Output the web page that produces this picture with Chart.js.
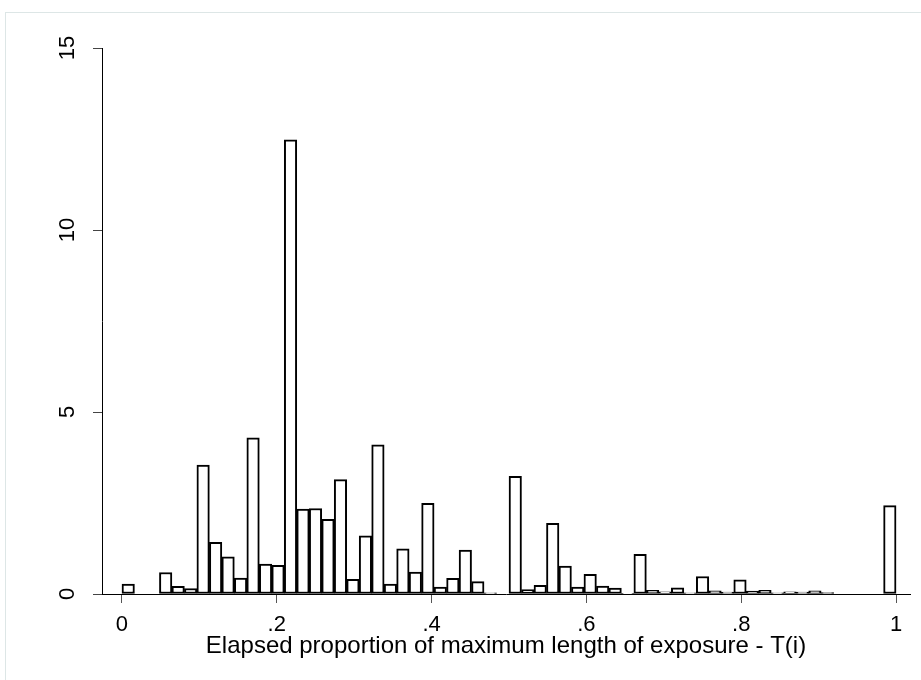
<!DOCTYPE html>
<html>
<head>
<meta charset="utf-8">
<script src="https://cdn.jsdelivr.net/npm/chart.js@4/dist/chart.umd.min.js"></script>
<style>
  body { margin: 0; background: #fff; }
  #wrap { position: relative; width: 921px; height: 680px; overflow: hidden; }
  #frame { position: absolute; left: 5px; top: 12px; width: 940px; height: 700px; border: 1px solid #dde6e6; }
  #hist { position: absolute; left: 0; top: 0; }
</style>
</head>
<body>
<div id="wrap">
  <div id="frame"></div>
  <canvas id="hist" width="921" height="680"></canvas>
</div>
<script>
// Histograma: densidade por intervalo (62 intervalos entre 0 e 1)
const binCount = 62;
const density = [
	0.27, null, null, 0.59, 0.21, 0.15, 3.54, 1.42, 1.02, 0.44,
	4.29, 0.82, 0.79, 12.48, 2.33, 2.35, 2.05, 3.14, 0.40, 1.60,
	4.10, 0.27, 1.24, 0.60, 2.49, 0.19, 0.43, 1.21, 0.34, 0.03,
	null, 3.23, 0.12, 0.24, 1.94, 0.77, 0.19, 0.54, 0.22, 0.16,
	0.02, 1.09, 0.10, 0.06, 0.17, 0.03, 0.48, 0.09, 0.05, 0.39,
	0.08, 0.10, 0.03, 0.06, 0.05, 0.09, 0.04, null, null, null,
	null, 2.43,
];
const xTicks = [0, 0.2, 0.4, 0.6, 0.8, 1];
const xTickLabels = ["0", ".2", ".4", ".6", ".8", "1"];
const yTicks = [0, 5, 10, 15];
const yTickLabels = ["0", "5", "10", "15"];
const xTitle = "Elapsed proportion of maximum length of exposure - T(i)";

// Pontos médios dos intervalos
const binWidth = 1 / binCount;
const points = density.map((v, i) => ({ x: (i + 0.5) * binWidth, y: v }));

const fontFamily = "'Liberation Sans', Arial, Helvetica, sans-serif";

let hist = new Chart(document.getElementById("hist"), {
	type: "bar",
	data: {
		datasets: [
			{
				data: points,
				backgroundColor: "#ffffff",
				borderColor: "#000000",
				borderWidth: 2,
				borderSkipped: false,
				barPercentage: 1,
				categoryPercentage: 1,
			},
		],
	},
	options: {
		responsive: false,
		animation: false,
		devicePixelRatio: 1,
		layout: {
			padding: { top: 48, right: 11, left: 0, bottom: 0 },
		},
		plugins: {
			legend: { display: false },
			tooltip: { enabled: false },
		},
		scales: {
			x: {
				type: "linear",
				min: -0.0258,
				max: 1.018,
				offset: false,
				afterBuildTicks: (scale) => {
					scale.ticks = xTicks.map((v) => ({ value: v }));
				},
				afterFit: (scale) => {
					scale.height = 86;
				},
				grid: {
					offset: false,
					drawOnChartArea: false,
					tickLength: 9,
					tickColor: "#555",
					tickWidth: 1,
				},
				border: { color: "#000", width: 1 },
				ticks: {
					autoSkip: false,
					maxRotation: 0,
					padding: 9,
					color: "#000",
					font: { family: fontFamily, size: 22 },
					callback: (value, index) => xTickLabels[index],
				},
				title: {
					display: true,
					text: xTitle,
					color: "#000",
					font: { family: fontFamily, size: 24 },
					padding: { top: 0, bottom: 19 },
				},
			},
			y: {
				min: 0,
				max: 15,
				afterBuildTicks: (scale) => {
					scale.ticks = yTicks.map((v) => ({ value: v }));
				},
				afterFit: (scale) => {
					scale.width = 102;
				},
				grid: {
					drawOnChartArea: false,
					tickLength: 9,
					tickColor: "#444",
					tickWidth: 1,
				},
				border: { color: "#000", width: 1 },
				ticks: {
					minRotation: 90,
					maxRotation: 90,
					crossAlign: "center",
					padding: 13,
					color: "#000",
					font: { family: fontFamily, size: 22 },
					callback: (value, index) => yTickLabels[index],
				},
			},
		},
	},
});
</script>
</body>
</html>
